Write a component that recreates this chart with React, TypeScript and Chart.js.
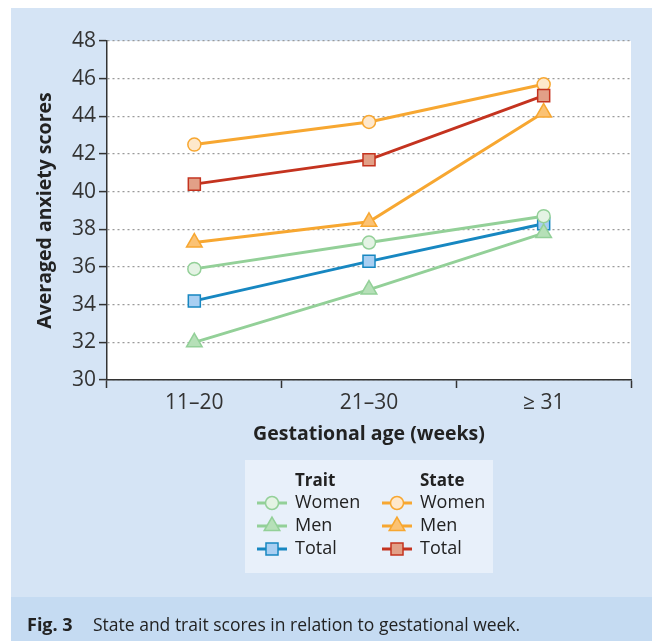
import React, { useEffect, useRef } from "react";
import { Chart, registerables } from "chart.js";

Chart.register(...registerables);

// ---- data ----
const categories = ["11–20", "21–30", "≥ 31"];
const traitWomen = [35.9, 37.3, 38.7];
const traitMen = [32.0, 34.8, 37.8];
const traitTotal = [34.2, 36.3, 38.3];
const stateWomen = [42.5, 43.7, 45.7];
const stateMen = [37.3, 38.4, 44.2];
const stateTotal = [40.4, 41.7, 45.1];
const yMin = 30;
const yMax = 48;
const yStep = 2;
const legendGroups = ["Trait", "State"];
const legendLabels = ["Women", "Men", "Total"];
const xTitle = "Gestational age (weeks)";
const yTitle = "Averaged anxiety scores";
const captionLabel = "Fig. 3";
const captionText = "State and trait scores in relation to gestational week.";

const FONT = "'Open Sans', 'Noto Sans', sans-serif";

type Style = { line: string; fill: string; border: string; shape: string; radius: number; order: number };

const traitStyles: Style[] = [
  { line: "#93d098", fill: "#e4f3e4", border: "#93d098", shape: "circle", radius: 6.5, order: 3 },
  { line: "#93d098", fill: "#b6e0b8", border: "#93d098", shape: "triangle", radius: 9, order: 2 },
  { line: "#1787c1", fill: "#a9cff2", border: "#1787c1", shape: "rect", radius: 8.5, order: 6 },
];
const stateStyles: Style[] = [
  { line: "#f7a731", fill: "#fee8cc", border: "#f7a731", shape: "circle", radius: 6.5, order: 5 },
  { line: "#f7a731", fill: "#fbc274", border: "#f7a731", shape: "triangle", radius: 9, order: 4 },
  { line: "#c4331f", fill: "#e2a087", border: "#c4331f", shape: "rect", radius: 8.5, order: 1 },
];

function drawMarker(ctx: CanvasRenderingContext2D, shape: string, x: number, y: number, r: number, fill: string, border: string) {
  ctx.save();
  ctx.beginPath();
  if (shape === "circle") {
    ctx.arc(x, y, r, 0, Math.PI * 2);
  } else if (shape === "triangle") {
    let rad = 0;
    ctx.moveTo(x + Math.sin(rad) * r, y - Math.cos(rad) * r);
    rad += (2 * Math.PI) / 3;
    ctx.lineTo(x + Math.sin(rad) * r, y - Math.cos(rad) * r);
    rad += (2 * Math.PI) / 3;
    ctx.lineTo(x + Math.sin(rad) * r, y - Math.cos(rad) * r);
    ctx.closePath();
  } else {
    const s = r * Math.SQRT1_2;
    ctx.rect(x - s, y - s, 2 * s, 2 * s);
  }
  ctx.fillStyle = fill;
  ctx.fill();
  ctx.lineWidth = 1.5;
  ctx.strokeStyle = border;
  ctx.stroke();
  ctx.restore();
}

const framePlugin = {
  id: "frame",
  beforeDraw(chart: any) {
    const { ctx, chartArea } = chart;
    ctx.save();
    ctx.fillStyle = "#ffffff";
    ctx.fillRect(0, 0, chart.width, chart.height);
    ctx.fillStyle = "#d5e4f5";
    ctx.fillRect(11, 8, 641, 589);
    ctx.fillStyle = "#c5dbf2";
    ctx.fillRect(11, 597, 641, 44);
    ctx.fillStyle = "#ffffff";
    ctx.fillRect(chartArea.left, chartArea.top, chartArea.right - chartArea.left, chartArea.bottom - chartArea.top);
    ctx.restore();
  },
  afterDraw(chart: any) {
    const { ctx } = chart;
    ctx.save();
    // legend box
    ctx.fillStyle = "#e8f0fa";
    ctx.fillRect(245, 460, 248, 113);
    const cols = [
      { x: 272, styles: traitStyles, title: legendGroups[0] },
      { x: 397, styles: stateStyles, title: legendGroups[1] },
    ];
    ctx.textBaseline = "middle";
    ctx.textAlign = "left";
    cols.forEach((c) => {
      ctx.fillStyle = "#222";
      ctx.font = `bold 17px ${FONT}`;
      ctx.fillText(c.title, c.x + 23, 481);
      c.styles.forEach((st, i) => {
        const y = 503 + i * 23;
        ctx.strokeStyle = st.line;
        ctx.lineWidth = 3;
        ctx.beginPath();
        ctx.moveTo(c.x - 15, y);
        ctx.lineTo(c.x + 15, y);
        ctx.stroke();
        drawMarker(ctx, st.shape, c.x, y, st.radius, st.fill, st.border);
        ctx.fillStyle = "#222";
        ctx.font = `18px ${FONT}`;
        ctx.fillText(legendLabels[i], c.x + 23, y);
      });
    });
    // caption
    ctx.fillStyle = "#222";
    ctx.font = `bold 18px ${FONT}`;
    ctx.fillText(captionLabel, 27, 626);
    ctx.font = `17.5px ${FONT}`;
    ctx.fillText(captionText, 93, 626);
    ctx.restore();
  },
};

export default function App() {
  const ref = useRef<HTMLCanvasElement | null>(null);
  useEffect(() => {
    if (!ref.current) return;
    const mk = (label: string, data: number[], st: Style) => ({
      label,
      data,
      borderColor: st.line,
      backgroundColor: st.fill,
      borderWidth: 3,
      pointStyle: st.shape,
      pointRadius: st.radius,
      pointBackgroundColor: st.fill,
      pointBorderColor: st.border,
      pointBorderWidth: 1.5,
      tension: 0,
      order: st.order,
    });
    const datasets = [
      mk("Trait Women", traitWomen, traitStyles[0]),
      mk("Trait Men", traitMen, traitStyles[1]),
      mk("Trait Total", traitTotal, traitStyles[2]),
      mk("State Women", stateWomen, stateStyles[0]),
      mk("State Men", stateMen, stateStyles[1]),
      mk("State Total", stateTotal, stateStyles[2]),
    ];
    const chart = new Chart(ref.current, {
      type: "line",
      data: { labels: categories, datasets },
      options: {
        responsive: false,
        animation: false,
        layout: { padding: { left: 12, right: 24, top: 41, bottom: 191 } },
        plugins: { legend: { display: false }, tooltip: { enabled: false } },
        scales: {
          x: {
            offset: true,
            ticks: { color: "#333", font: { family: FONT, size: 21 }, padding: 2 },
            grid: { offset: true, drawOnChartArea: false, color: "#333", tickColor: "#333", tickLength: 8, tickWidth: 1.5 },
            border: { color: "#333", width: 1.5 },
            title: {
              display: true,
              text: xTitle,
              color: "#222",
              font: { family: FONT, size: 19.5, weight: "bold" },
              padding: { top: 0, bottom: 4 },
            },
            afterFit: (s: any) => {
              s.height = 70;
            },
          },
          y: {
            min: yMin,
            max: yMax,
            ticks: { stepSize: yStep, color: "#333", font: { family: FONT, size: 21 }, padding: 3 },
            grid: { color: "#9a9a9a", lineWidth: 1.2, tickColor: "#333", tickLength: 8, tickWidth: 1.5 },
            border: { color: "#333", width: 1.5, dash: [2, 3] },
            title: {
              display: true,
              text: yTitle,
              color: "#222",
              font: { family: FONT, size: 19.5, weight: "bold" },
              padding: { top: 22, bottom: 0 },
            },
            afterFit: (s: any) => {
              s.width = 95;
            },
          },
        },
      } as any,
      plugins: [framePlugin],
    });
    return () => chart.destroy();
  }, []);
  return (
    <div style={{ position: "fixed", left: 0, top: 0, width: 655, height: 641 }}>
      <canvas ref={ref} width={655} height={641} style={{ width: 655, height: 641, display: "block" }} />
    </div>
  );
}
